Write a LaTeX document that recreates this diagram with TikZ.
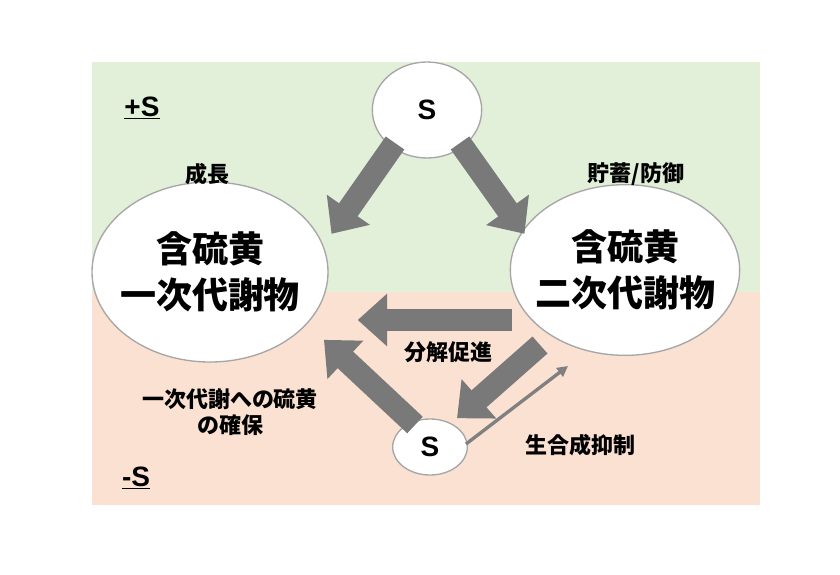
\documentclass[tikz,border=0pt]{standalone}
\usepackage{fontspec}
\setmainfont{Liberation Sans}
\newfontfamily\cjk{Noto Sans CJK JP}
\usetikzlibrary{arrows.meta,shapes.geometric}
\begin{document}
\begin{tikzpicture}[x=0.75pt,y=-0.75pt,
 el/.style={ellipse,draw=gray!70,line width=1pt,fill=white,inner sep=0pt},
 big/.style={draw=gray!95!black,line width=17pt,-{Triangle[width=38pt,length=22pt]},shorten >=2pt},
 lab/.style={font=\cjk\fontsize{16.5}{20}\selectfont\bfseries,align=center}]
\useasboundingbox (0,0) rectangle (840,575);
\fill[fill={rgb,255:red,226;green,239;blue,217}] (92,62) rectangle (760,292);
\fill[fill={rgb,255:red,250;green,225;blue,210}] (92,292) rectangle (760,505);
\node[el,minimum width=82pt,minimum height=72pt] (s1) at (427,110) {};
\node[font=\bfseries\fontsize{21}{24}\selectfont] at (s1) {S};
\node[el,minimum width=177pt,minimum height=135pt] (a) at (210,272) {};
\node[font=\cjk\bfseries\fontsize{27}{34}\selectfont,align=center] at (a) {含硫黄\\一次代謝物};
\node[el,minimum width=172pt,minimum height=128pt] (b) at (625,270) {};
\node[font=\cjk\bfseries\fontsize{27}{34}\selectfont,align=center] at (b) {含硫黄\\二次代謝物};
\node[el,minimum width=56pt,minimum height=42pt] (s2) at (430,447) {};
\node[font=\bfseries\fontsize{21}{24}\selectfont] at (s2) {S};
\coordinate (p1) at (395,143); \coordinate (q1) at (330,236);
\coordinate (p2) at (460,143); \coordinate (q2) at (526,236);
\coordinate (p3) at (512,320); \coordinate (q3) at (355,320);
\coordinate (p4) at (540,345); \coordinate (q4) at (455,420);
\coordinate (p5) at (415,425); \coordinate (q5) at (322,338);
\coordinate (p6) at (466,444); \coordinate (q6) at (568,366);
\draw[big] (p1) -- (q1);
\draw[big] (p2) -- (q2);
\draw[big] (p3) -- (q3);
\draw[big] (p4) -- (q4);
\draw[big] (p5) -- (q5);
\draw[gray,line width=2.5pt,-{Triangle[width=8pt,length=8pt]}] (p6) -- (q6);
\node[font=\bfseries\fontsize{21}{24}\selectfont] (ps) at (142,108) {\underline{+S}};
\node[font=\bfseries\fontsize{21}{24}\selectfont] (ms) at (136,478) {\underline{-S}};
\node[lab] (l1) at (207,174) {成長};
\node[lab] (l2) at (636,174) {貯蓄/防御};
\node[lab] (l3) at (448,352) {分解促進};
\node[lab] (l4) at (230,412) {一次代謝への硫黄\\の確保};
\node[lab] (l5) at (580,445) {生合成抑制};
\end{tikzpicture}
\end{document}
